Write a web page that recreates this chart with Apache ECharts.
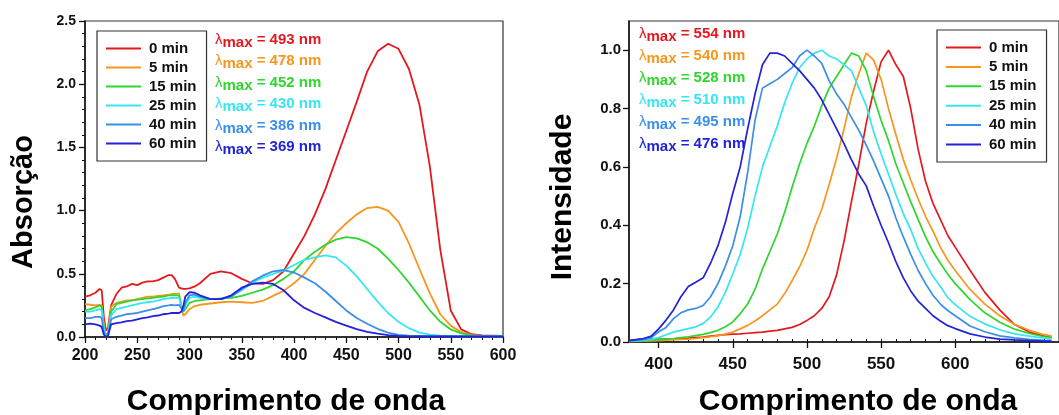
<!DOCTYPE html>
<html>
<head>
<meta charset="utf-8">
<script src="https://cdn.jsdelivr.net/npm/echarts@6/dist/echarts.min.js"></script>
<style>
  html, body { margin: 0; padding: 0; background: #fff; }
  #chart { width: 1059px; height: 415px; }
</style>
</head>
<body>
<div id="chart"></div>
<script>
// legend names and colours
const times = ['0 min', '5 min', '15 min', '25 min', '40 min', '60 min'];
const colors = ['#e3191f', '#f7961e', '#2ed62e', '#35e6f2', '#3a8fe8', '#2222d8'];

// absorption spectra (left)
const wlAbs = [200,205,210,214,216,218,220,222,225,230,235,240,245,250,255,260,265,270,275,280,283,286,290,292,294,296,300,305,310,320,330,340,350,360,370,380,390,400,410,420,430,440,450,460,470,480,490,500,510,520,530,540,550,560,570,580,590,600];
const abs0 = [0.32,0.33,0.35,0.38,0.37,0.16,0.05,0.07,0.25,0.34, 0.39,0.40,0.42,0.41,0.43,0.44,0.44,0.45,0.47,0.49, 0.49,0.46,0.39,0.385,0.38,0.38,0.385,0.40,0.425,0.50, 0.52,0.505,0.46,0.425,0.42,0.45,0.52,0.66,0.80,0.97, 1.17,1.40,1.63,1.86,2.10,2.26,2.32,2.28,2.12,1.84, 1.35,0.69,0.21,0.06,0.022,0.012,0.01,0.008];
const abs5 = [0.26,0.255,0.25,0.255,0.25,0.10,0.01,0.02,0.24,0.27, 0.28,0.29,0.29,0.30,0.31,0.32,0.32,0.325,0.33,0.335, 0.34,0.34,0.345,0.25,0.17,0.18,0.22,0.245,0.255,0.265, 0.275,0.28,0.275,0.27,0.285,0.325,0.365,0.425,0.50,0.61, 0.72,0.82,0.90,0.97,1.02,1.03,1.0,0.91,0.74,0.54, 0.345,0.18,0.09,0.038,0.015,0.008,0.007,0.007];
const abs15 = [0.21,0.22,0.235,0.25,0.24,0.08,0.02,0.03,0.20,0.26, 0.27,0.28,0.29,0.295,0.30,0.305,0.31,0.315,0.32,0.33, 0.33,0.33,0.33,0.26,0.20,0.22,0.27,0.285,0.29,0.30, 0.305,0.31,0.325,0.35,0.375,0.41,0.46,0.52,0.61,0.675, 0.73,0.77,0.79,0.78,0.75,0.70,0.62,0.53,0.43,0.32, 0.21,0.12,0.06,0.028,0.012,0.007,0.006,0.006];
const abs25 = [0.20,0.20,0.21,0.22,0.21,0.07,0.01,0.02,0.17,0.22, 0.23,0.24,0.25,0.26,0.27,0.275,0.28,0.29,0.30,0.305, 0.31,0.31,0.31,0.25,0.20,0.25,0.31,0.32,0.31,0.30, 0.30,0.32,0.37,0.43,0.47,0.50,0.525,0.57,0.61,0.63, 0.645,0.63,0.565,0.48,0.38,0.28,0.19,0.12,0.07,0.035, 0.018,0.01,0.008,0.006,0.006,0.006,0.006,0.006];
const abs40 = [0.15,0.15,0.16,0.16,0.15,0.04,0.005,0.01,0.14,0.16, 0.17,0.18,0.185,0.19,0.20,0.21,0.22,0.23,0.245,0.25, 0.255,0.25,0.255,0.23,0.20,0.27,0.33,0.335,0.32,0.30, 0.30,0.32,0.38,0.44,0.485,0.52,0.53,0.51,0.47,0.425, 0.36,0.285,0.21,0.15,0.105,0.065,0.035,0.016,0.01,0.008, 0.006,0.006,0.005,0.005,0.005,0.005,0.005,0.005];
const abs60 = [0.10,0.105,0.10,0.09,0.08,0.02,0.0,0.01,0.10,0.11, 0.115,0.125,0.13,0.14,0.15,0.155,0.165,0.17,0.18,0.185, 0.19,0.19,0.19,0.20,0.24,0.32,0.355,0.35,0.33,0.30, 0.30,0.33,0.39,0.42,0.43,0.42,0.37,0.29,0.23,0.19, 0.155,0.12,0.09,0.062,0.04,0.026,0.015,0.008,0.005,0.004, 0.004,0.004,0.004,0.004,0.004,0.004,0.004,0.004];

// emission spectra (right)
const wlEm = [380,390,395,400,405,410,415,420,425,430,435,440,445,450,455,460,465,470,475,480,485,490,495,500,505,510,515,520,525,530,535,540,545,550,555,560,565,570,575,580,585,590,595,600,610,620,630,640,650,660,665];
const em0 = [0.004,0.012,0.012,0.01,0.01,0.011,0.012,0.013,0.015,0.017, 0.02,0.023,0.025,0.027,0.028,0.03,0.032,0.034,0.037,0.04, 0.045,0.05,0.06,0.074,0.09,0.115,0.155,0.23,0.345,0.48, 0.61,0.75,0.86,0.96,1.0,0.95,0.91,0.80,0.66,0.55, 0.475,0.42,0.365,0.325,0.246,0.17,0.11,0.06,0.034,0.02, 0.016];
const em5 = [0.002,0.003,0.004,0.005,0.006,0.008,0.009,0.01,0.012,0.015, 0.018,0.022,0.027,0.034,0.045,0.057,0.072,0.09,0.11,0.13, 0.166,0.21,0.257,0.314,0.39,0.455,0.54,0.63,0.73,0.84, 0.92,0.99,0.966,0.90,0.80,0.71,0.625,0.555,0.49,0.43, 0.38,0.325,0.28,0.245,0.18,0.13,0.09,0.06,0.04,0.025, 0.02];
const em15 = [0.002,0.004,0.006,0.008,0.01,0.012,0.015,0.018,0.022,0.026, 0.032,0.04,0.052,0.069,0.097,0.13,0.18,0.25,0.31,0.37, 0.445,0.53,0.61,0.68,0.74,0.81,0.87,0.91,0.95,0.99, 0.98,0.93,0.84,0.76,0.69,0.61,0.545,0.48,0.42,0.36, 0.31,0.27,0.232,0.20,0.145,0.10,0.068,0.044,0.029,0.018, 0.015];
const em25 = [0.003,0.006,0.01,0.015,0.025,0.034,0.04,0.046,0.052,0.063, 0.086,0.12,0.17,0.234,0.30,0.39,0.50,0.60,0.67,0.74, 0.82,0.886,0.94,0.97,0.99,1.0,0.98,0.97,0.95,0.93, 0.87,0.81,0.72,0.645,0.575,0.505,0.44,0.385,0.32,0.27, 0.225,0.19,0.152,0.128,0.088,0.062,0.042,0.028,0.02,0.013, 0.011];
const em40 = [0.004,0.008,0.015,0.035,0.05,0.08,0.10,0.11,0.115,0.125, 0.155,0.20,0.26,0.33,0.43,0.58,0.76,0.87,0.885,0.90, 0.92,0.94,0.98,1.0,0.98,0.955,0.895,0.85,0.815,0.77, 0.725,0.675,0.62,0.56,0.50,0.425,0.36,0.30,0.245,0.20, 0.16,0.13,0.108,0.09,0.055,0.035,0.021,0.014,0.009,0.006, 0.005];
const em60 = [0.005,0.012,0.02,0.045,0.075,0.11,0.155,0.19,0.205,0.22, 0.27,0.33,0.41,0.51,0.60,0.73,0.85,0.95,0.99,0.99, 0.98,0.955,0.93,0.90,0.87,0.83,0.78,0.73,0.68,0.625, 0.575,0.535,0.465,0.40,0.34,0.275,0.22,0.175,0.14,0.115, 0.09,0.072,0.056,0.046,0.028,0.017,0.01,0.007,0.005,0.003, 0.003];

const lambdaAbs = [493, 478, 452, 430, 386, 369];
const lambdaEm = [554, 540, 528, 510, 495, 476];
const emTicks = [400, 450, 500, 550, 600, 650];
const emYTicks = [0, 0.2, 0.4, 0.6, 0.8, 1.0];

const absSets = [abs0, abs5, abs15, abs25, abs40, abs60];
const emSets = [em0, em5, em15, em25, em40, em60];

const FONT = 'Arial, "Liberation Sans", sans-serif';
const chart = echarts.init(document.getElementById('chart'));

const axisBase = {
  axisLine: { show: true, lineStyle: { color: '#111', width: 1.5 } },
  axisTick: { show: true, length: 6, lineStyle: { color: '#111', width: 1.3 } },
  splitLine: { show: false },
};

const series = [];
absSets.forEach((vals, k) => {
  series.push({
    name: times[k], type: 'line', xAxisIndex: 0, yAxisIndex: 0,
    showSymbol: false, color: colors[k], lineStyle: { width: 1.8, color: colors[k] },
    data: wlAbs.map((w, i) => [w, vals[i]]),
  });
});
emSets.forEach((vals, k) => {
  series.push({
    name: times[k], type: 'line', xAxisIndex: 1, yAxisIndex: 1,
    showSymbol: false, color: colors[k], lineStyle: { width: 1.7, color: colors[k] },
    data: wlEm.map((w, i) => [w, vals[i]]),
  });
});

function lambdaText(values, x, y0, dy) {
  return values.map((v, k) => ({
    type: 'text', left: x, top: y0 + k * dy,
    style: {
      text: '{l|λ}{s|max}{v| = ' + v + ' nm}',
      rich: {
        l: { fontFamily: FONT, fontSize: 15, fill: colors[k], verticalAlign: 'bottom', padding: [0, 0, 3, 0] },
        s: { fontFamily: FONT, fontSize: 15, fontWeight: 'bold', fill: colors[k], verticalAlign: 'bottom' },
        v: { fontFamily: FONT, fontSize: 15, fontWeight: 'bold', fill: colors[k], verticalAlign: 'bottom', padding: [0, 0, 3, 0] },
      },
    },
  }));
}

const legendBase = {
  orient: 'vertical', icon: 'rect', itemWidth: 35, itemHeight: 2,
  backgroundColor: '#fff', borderColor: '#333', borderWidth: 1.2, borderRadius: 0,
  textStyle: { fontFamily: FONT, fontSize: 15, fontWeight: 'bold', color: '#111', padding: [0, 0, 0, 3] },
  data: times,
};

chart.setOption({
  animation: false,
  grid: [
    { left: 85, top: 21, width: 418, height: 316, show: true, borderColor: '#333', borderWidth: 1.2 },
    { left: 629, top: 21, right: -8, height: 321, show: true, borderColor: '#333', borderWidth: 1.2 },
  ],
  xAxis: [
    Object.assign({}, axisBase, {
      gridIndex: 0, type: 'value', min: 200, max: 600, interval: 50,
      minorTick: { show: true, splitNumber: 5, length: 3, lineStyle: { color: '#111', width: 1 } },
      axisLabel: { fontFamily: FONT, fontSize: 16, fontWeight: 'bold', color: '#111', margin: 11 },
    }),
    Object.assign({}, axisBase, {
      gridIndex: 1, type: 'value', min: 380, max: 670,
      axisTick: { show: true, length: 6, customValues: emTicks, lineStyle: { color: '#111', width: 1.3 } },
      axisLabel: { fontFamily: FONT, fontSize: 17, fontWeight: 'bold', color: '#111', margin: 14, customValues: emTicks },
    }),
    {
      gridIndex: 1, type: 'value', min: 380, max: 670, interval: 10,
      axisLine: { show: false }, axisLabel: { show: false }, splitLine: { show: false },
      axisTick: { show: true, length: 3, lineStyle: { color: '#111', width: 1 } },
    },
  ],
  yAxis: [
    Object.assign({}, axisBase, {
      gridIndex: 0, type: 'value', min: 0, max: 2.5, interval: 0.5,
      minorTick: { show: true, splitNumber: 5, length: 3, lineStyle: { color: '#111', width: 1 } },
      axisLabel: { fontFamily: FONT, fontSize: 14, fontWeight: 'bold', color: '#111', margin: 9,
        formatter: v => v.toFixed(1) },
    }),
    Object.assign({}, axisBase, {
      gridIndex: 1, type: 'value', min: 0, max: 1.1,
      axisTick: { show: true, length: 6, customValues: emYTicks, lineStyle: { color: '#111', width: 1.3 } },
      axisLabel: { fontFamily: FONT, fontSize: 15, fontWeight: 'bold', color: '#111', margin: 8,
        customValues: emYTicks, formatter: v => v.toFixed(1) },
    }),
    {
      gridIndex: 1, type: 'value', min: 0, max: 1.1, interval: 0.025,
      axisLine: { show: false }, axisLabel: { show: false }, splitLine: { show: false },
      axisTick: { show: true, length: 3, lineStyle: { color: '#111', width: 1 } },
    },
  ],
  legend: [
    Object.assign({}, legendBase, { left: 97, top: 31, itemGap: 4, padding: [10, 10, 10, 9] }),
    Object.assign({}, legendBase, { left: 937, top: 30, itemGap: 4.4, padding: [10, 10, 10, 9] }),
  ],
  graphic: [
    { type: 'text', x: 24, y: 202, rotation: Math.PI / 2,
      style: { text: 'Absorção', fontFamily: FONT, fontSize: 29, fontWeight: 'bold', fill: '#000', align: 'center', verticalAlign: 'middle' } },
    { type: 'text', x: 563, y: 197, rotation: Math.PI / 2,
      style: { text: 'Intensidade', fontFamily: FONT, fontSize: 30, fontWeight: 'bold', fill: '#000', align: 'center', verticalAlign: 'middle' } },
    { type: 'text', x: 286, y: 402,
      style: { text: 'Comprimento de onda', fontFamily: FONT, fontSize: 30, fontWeight: 'bold', fill: '#000', align: 'center', verticalAlign: 'middle' } },
    { type: 'text', x: 858, y: 402,
      style: { text: 'Comprimento de onda', fontFamily: FONT, fontSize: 30, fontWeight: 'bold', fill: '#000', align: 'center', verticalAlign: 'middle' } },
  ].concat(lambdaText(lambdaAbs, 215, 32, 21.5), lambdaText(lambdaEm, 639, 26, 22)),
  series: series,
});
</script>
</body>
</html>
